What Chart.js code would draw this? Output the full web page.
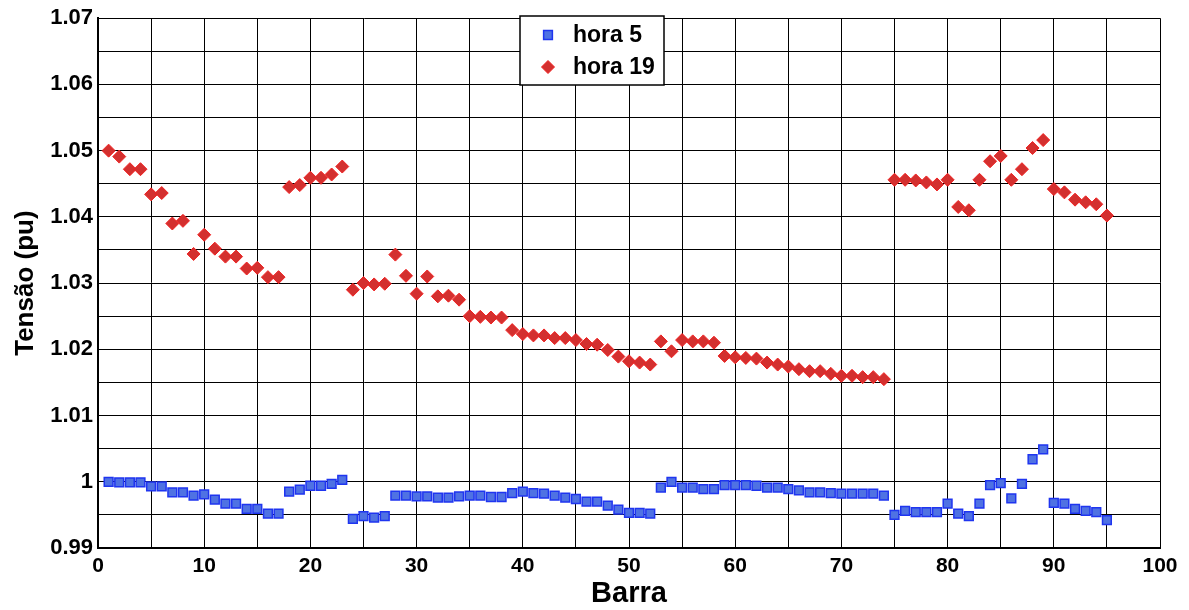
<!DOCTYPE html>
<html>
<head>
<meta charset="utf-8">
<title>Tensão por barra</title>
<script src="https://cdn.jsdelivr.net/npm/chart.js@4/dist/chart.umd.min.js"></script>
<style>
  html, body { margin: 0; padding: 0; background: #fff; }
  #wrap { width: 1189px; height: 610px; position: relative; }
</style>
</head>
<body>
<div id="wrap"><canvas id="chart" width="1189" height="610"></canvas></div>
<script>
// barras (eixo x)
const barras = [1, 2, 3, 4, 5, 6, 7, 8, 9, 10, 11, 12, 13, 14, 15, 16, 17, 18, 19, 20,
  21, 22, 23, 24, 25, 26, 27, 28, 29, 30, 31, 32, 33, 34, 35, 36, 37, 38, 39, 40,
  41, 42, 43, 44, 45, 46, 47, 48, 49, 50, 51, 52, 53, 54, 55, 56, 57, 58, 59, 60,
  61, 62, 63, 64, 65, 66, 67, 68, 69, 70, 71, 72, 73, 74, 75, 76, 77, 78, 79, 80,
  81, 82, 83, 84, 85, 86, 87, 88, 89, 90, 91, 92, 93, 94, 95];

// tensão (pu) na hora 5
const hora5 = [1.0000, 0.9999, 0.9999, 0.9999, 0.9993, 0.9993, 0.9984, 0.9984, 0.9979, 0.9981,
  0.9973, 0.9967, 0.9967, 0.9959, 0.9959, 0.9952, 0.9952, 0.9985, 0.9988, 0.9994,
  0.9994, 0.9997, 1.0003, 0.9944, 0.9948, 0.9946, 0.9948, 0.9979, 0.9979, 0.9978,
  0.9978, 0.9976, 0.9976, 0.9978, 0.9979, 0.9979, 0.9977, 0.9977, 0.9983, 0.9985,
  0.9983, 0.9982, 0.9979, 0.9976, 0.9974, 0.9970, 0.9970, 0.9964, 0.9958, 0.9953,
  0.9953, 0.9952, 0.9991, 1.0000, 0.9991, 0.9991, 0.9989, 0.9989, 0.9995, 0.9995,
  0.9995, 0.9994, 0.9991, 0.9991, 0.9989, 0.9987, 0.9984, 0.9984, 0.9983, 0.9982,
  0.9982, 0.9982, 0.9982, 0.9979, 0.9950, 0.9956, 0.9954, 0.9954, 0.9954, 0.9967,
  0.9952, 0.9948, 0.9967, 0.9995, 0.9998, 0.9975, 0.9997, 1.0034, 1.0049, 0.9968,
  0.9967, 0.9959, 0.9956, 0.9954, 0.9942];

// tensão (pu) na hora 19
const hora19 = [1.0500, 1.0491, 1.0472, 1.0472, 1.0434, 1.0436, 1.0390, 1.0394, 1.0344, 1.0373,
  1.0352, 1.0340, 1.0340, 1.0322, 1.0323, 1.0309, 1.0309, 1.0445, 1.0448, 1.0459,
  1.0459, 1.0464, 1.0476, 1.0290, 1.0300, 1.0298, 1.0299, 1.0343, 1.0311, 1.0284,
  1.0310, 1.0280, 1.0281, 1.0275, 1.0250, 1.0249, 1.0248, 1.0248, 1.0229, 1.0223,
  1.0221, 1.0221, 1.0217, 1.0217, 1.0214, 1.0208, 1.0207, 1.0199, 1.0189, 1.0182,
  1.0180, 1.0177, 1.0212, 1.0197, 1.0214, 1.0212, 1.0212, 1.0210, 1.0190, 1.0188,
  1.0187, 1.0186, 1.0180, 1.0177, 1.0174, 1.0170, 1.0167, 1.0167, 1.0163, 1.0160,
  1.0160, 1.0158, 1.0158, 1.0155, 1.0456, 1.0456, 1.0455, 1.0452, 1.0449, 1.0456,
  1.0415, 1.0410, 1.0456, 1.0484, 1.0492, 1.0456, 1.0472, 1.0504, 1.0516, 1.0442,
  1.0437, 1.0426, 1.0422, 1.0419, 1.0402];

const xTickLabels = ['0', '10', '20', '30', '40', '50', '60', '70', '80', '90', '100'];
const yTickLabels = ['0.99', '1', '1.01', '1.02', '1.03', '1.04', '1.05', '1.06', '1.07'];

const FONT = '"Liberation Sans", Arial, Helvetica, sans-serif';

const serie5 = {
  label: 'hora 5',
  data: barras.map((b, i) => ({ x: b, y: hora5[i] })),
  pointStyle: 'rect',
  pointRadius: 6.2,
  pointHoverRadius: 6.2,
  backgroundColor: '#4f72e3',
  borderColor: '#1f35f0',
  pointBorderWidth: 1.5,
  showLine: false
};

const serie19 = {
  label: 'hora 19',
  data: barras.map((b, i) => ({ x: b, y: hora19[i] })),
  pointStyle: 'rectRot',
  pointRadius: 6.5,
  pointHoverRadius: 6.5,
  backgroundColor: '#d3302f',
  borderColor: '#f02020',
  pointBorderWidth: 1,
  showLine: false
};

// legenda desenhada dentro da área do gráfico, com caixa
const boxLegend = {
  id: 'boxLegend',
  afterDatasetsDraw(chart) {
    const ctx = chart.ctx;
    const x0 = 520, y0 = 16, w = 144, h = 69;
    ctx.save();
    ctx.fillStyle = '#fff';
    ctx.fillRect(x0, y0, w, h);
    ctx.strokeStyle = '#000';
    ctx.lineWidth = 1.5;
    ctx.strokeRect(x0, y0, w, h);

    const items = [serie5, serie19];
    items.forEach((s, i) => {
      const cy = y0 + 19 + i * 32;
      ctx.fillStyle = s.backgroundColor;
      ctx.strokeStyle = s.borderColor;
      ctx.lineWidth = s.pointBorderWidth;
      Chart.helpers.drawPoint(ctx, {
        pointStyle: s.pointStyle,
        radius: s.pointRadius,
        rotation: 0,
        borderWidth: s.pointBorderWidth
      }, x0 + 28, cy);
      ctx.fillStyle = '#000';
      ctx.font = 'bold 23px ' + FONT;
      ctx.textBaseline = 'middle';
      ctx.textAlign = 'left';
      ctx.fillText(s.label, x0 + 53, cy + 1);
    });
    ctx.restore();
  }
};

new Chart(document.getElementById('chart'), {
  type: 'scatter',
  data: { datasets: [serie5, serie19] },
  plugins: [boxLegend],
  options: {
    responsive: false,
    animation: false,
    devicePixelRatio: 1,
    layout: { padding: { top: 16, right: 29, left: 0, bottom: 0 } },
    plugins: {
      legend: { display: false },
      tooltip: { enabled: false }
    },
    scales: {
      x: {
        type: 'linear',
        min: 0,
        max: 100,
        afterFit(scale) { scale.height = 62; },
        border: { display: true, color: '#000', width: 2 },
        grid: { color: '#000', lineWidth: 1, drawTicks: false },
        ticks: {
          stepSize: 5,
          autoSkip: false,
          maxRotation: 0,
          padding: 6,
          color: '#000',
          font: { family: FONT, size: 21, weight: 'bold' },
          callback: (v, i) => (i % 2 === 0 ? xTickLabels[i / 2] : '')
        },
        title: {
          display: true,
          text: 'Barra',
          color: '#000',
          font: { family: FONT, size: 29, weight: 'bold', lineHeight: 1 },
          padding: { top: 0, bottom: 2 }
        }
      },
      y: {
        type: 'linear',
        min: 0.99,
        max: 1.07,
        afterFit(scale) { scale.width = 98; },
        border: { display: true, color: '#000', width: 2 },
        grid: { color: '#000', lineWidth: 1, drawTicks: false },
        ticks: {
          stepSize: 0.005,
          autoSkip: false,
          padding: 5,
          color: '#000',
          font: { family: FONT, size: 22, weight: 'bold' },
          callback: (v, i) => (i % 2 === 0 ? yTickLabels[i / 2] : '')
        },
        title: {
          display: true,
          text: 'Tensão (pu)',
          color: '#000',
          font: { family: FONT, size: 26, weight: 'bold', lineHeight: 1 },
          padding: { top: 13, bottom: 0 }
        }
      }
    }
  }
});
</script>
</body>
</html>
